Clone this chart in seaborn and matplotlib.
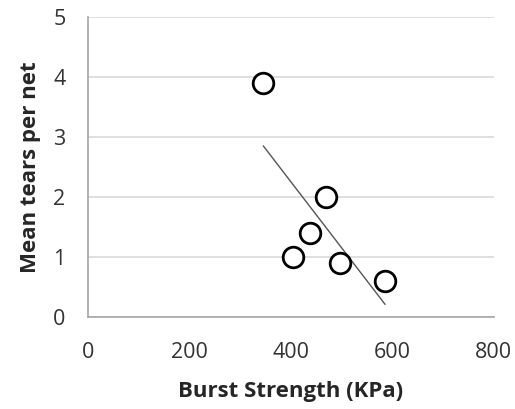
import numpy as np
import pandas as pd
import matplotlib
matplotlib.use("Agg")
import matplotlib.pyplot as plt
import seaborn as sns

# values
burst_strength = [346, 405, 438, 470, 498, 586]
mean_tears = [3.9, 1.0, 1.4, 2.0, 0.9, 0.6]
x_ticks = [0, 200, 400, 600, 800]
y_ticks = [0, 1, 2, 3, 4, 5]

df = pd.DataFrame({"burst": burst_strength, "tears": mean_tears})

sns.set_style("white")
plt.rcParams["font.family"] = ["Open Sans", "DejaVu Sans"]

fig = plt.figure(figsize=(5.15, 4.09), dpi=100)
ax = fig.add_axes([0.1703, 0.2242, 0.7883, 0.7335])

# linear trend line over the data range
sns.regplot(data=df, x="burst", y="tears", ax=ax, scatter=False, ci=None,
            truncate=True, color="#555555", line_kws={"linewidth": 1.0})
sns.scatterplot(data=df, x="burst", y="tears", ax=ax, s=220, facecolor="white",
                edgecolor="black", linewidth=2.0, zorder=3)

ax.set_xlim(0, 800)
ax.set_ylim(0, 5)
ax.set_xticks(x_ticks)
ax.set_yticks(y_ticks)
ax.yaxis.grid(True, color="#d9d9d9", linewidth=1.2)
ax.xaxis.grid(False)
ax.set_axisbelow(True)

for side in ["top", "right"]:
    ax.spines[side].set_visible(False)
for side in ["left", "bottom"]:
    ax.spines[side].set_color("#a6a6a6")
    ax.spines[side].set_linewidth(1.2)

ax.tick_params(axis="both", direction="out", length=6, width=1.2, color="#a6a6a6",
               labelsize=15.5, labelcolor="#333333")
ax.tick_params(axis="x", pad=12)
ax.tick_params(axis="y", pad=10)

ax.set_xlabel("Burst Strength (KPa)", fontsize=16, fontweight="bold", labelpad=13)
ax.set_ylabel("Mean tears per net", fontsize=16, fontweight="bold", labelpad=9)

fig.savefig("out.png", dpi=100)
